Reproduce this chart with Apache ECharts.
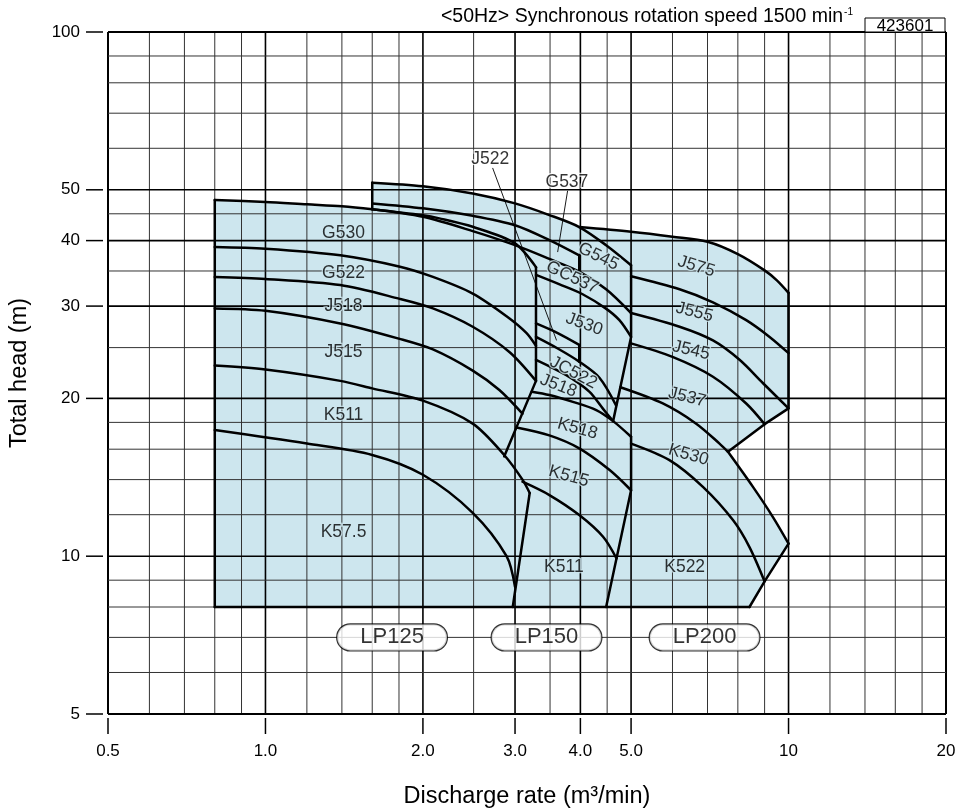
<!DOCTYPE html>
<html><head><meta charset="utf-8">
<script src="https://cdn.jsdelivr.net/npm/echarts@6/dist/echarts.min.js"></script>
<style>html,body{margin:0;padding:0;background:#fff}#c{width:959px;height:810px}</style>
</head><body><div id="c"></div>
<script>
// ---------------- data ----------------
var xGridVals = [0.5,0.6,0.7,0.8,0.9,1,1.2,1.4,1.6,1.8,2,2.5,3,3.5,4,4.5,5,6,7,8,9,10,12,14,16,18,20];
var yGridVals = [5,6,7,8,9,10,12,14,16,18,20,25,30,35,40,45,50,60,70,80,90,100];
var xMajorGrid = [1,2,3,4,5,10];
var yMajorGrid = [10,20,30,40,50];
var xTickVals = [0.5,1,2,3,4,5,10,20];
var xTickLabels = ['0.5','1.0','2.0','3.0','4.0','5.0','10','20'];
var yTickVals = [5,10,20,30,40,50,100];
var yTickLabels = ['5','10','20','30','40','50','100'];

// LP125
var edge125 = [[0.8,8],[0.8,47.8]];
var top125 = [[0.8,47.8],[1.0,47.4],[1.2,46.9],[1.4,46.5],[1.6,45.9],[2.0,44.7],[2.15,44.1],[2.49,42.5],[2.99,39.6],[3.29,35.6]];
var curve125a = [[0.8,38.9],[1.0,38.6],[1.39,37.5],[1.8,35.7],[2.09,34.1],[2.49,31.7],[2.89,28.7],[3.15,26.7],[3.29,25.2]];
var curve125b = [[0.8,34.1],[1.0,33.8],[1.39,32.9],[1.8,31.0],[2.09,29.7],[2.49,27.4],[2.93,24.5],[3.29,21.6]];
var curve125c = [[0.8,29.7],[1.0,29.4],[1.39,27.8],[1.8,26.0],[2.09,24.8],[2.49,22.6],[2.8,20.75],[3.1,18.7]];
var curve125d = [[0.8,23.1],[1.0,22.7],[1.39,21.6],[1.6,20.9],[2.0,19.8],[2.49,17.9],[2.86,15.6],[3.1,14.0],[3.2,13.2]];
var curve125e = [[0.8,17.4],[1.2,16.4],[1.6,15.6],[2.0,14.3],[2.49,12.1],[2.89,10.0],[3.0,8.74]];
var vert125 = [[3.29,35.6],[3.29,21.6]];
var slant150 = [[3.29,21.6],[2.86,15.5]];
var low150 = [[3.2,13.2],[2.97,8]];

// LP150
var step150 = [[1.6,45.9],[1.6,51.6]];
var top150 = [[1.6,51.6],[2.0,50.8],[2.49,49.2],[3.0,47.1],[3.49,44.75],[3.98,42.45],[4.48,39.2],[5.0,35.9]];
var g537Low = [[1.6,47.1],[2.0,46.1],[2.49,44.6],[3.0,42.8],[3.49,40.1],[3.98,37.5]];
var gc537Top = [[1.6,45.9],[2.0,44.4],[2.49,41.7],[3.0,39.2],[3.49,36.9],[3.98,34.9],[4.48,32.3],[5.0,29.1]];
var div545 = [[3.98,37.5],[3.98,34.9]];
var gc537Low = [[3.29,34.4],[3.65,33.0],[4.04,31.6],[4.47,29.7],[4.75,28.2],[5.0,26.2]];
var j530Low = [[3.29,27.8],[3.62,26.65],[3.98,25.3]];
var div530 = [[3.98,25.3],[3.98,23.5]];
var j522Low = [[3.29,26.2],[3.62,24.9],[3.98,23.5],[4.35,21.9],[4.68,19.4]];
var jc522Low = [[3.29,23.7],[3.76,22.15],[4.16,20.6],[4.42,19.1],[4.62,18.1]];
var j518Low = [[3.23,20.6],[3.49,20.3],[3.87,19.7],[4.29,19.0],[4.62,18.1],[5.0,16.9]];
var k518Low = [[3.02,17.6],[3.49,17.0],[3.98,16.06],[4.55,14.6],[5.0,13.36]];
var k515Low = [[3.1,13.87],[3.49,13.08],[3.98,11.98],[4.42,10.89],[4.69,9.9]];
var right150 = [[5.0,35.9],[5.0,26.2],[4.62,18.1]];
var right150Low = [[5.0,16.9],[5.0,13.36],[4.48,8]];

// LP200
var top200 = [[3.98,42.45],[5.0,41.6],[6.0,40.7],[7.0,39.8],[8.0,37.7],[9.0,35.1],[9.5,33.6],[10,31.8]];
var right200 = [[10,31.8],[10,19.14],[9.0,17.86],[7.66,15.82]];
var outer200 = [[7.66,15.82],[8.55,13.56],[9.33,11.89],[10,10.57]];
var tail200 = [[10,10.57],[9.0,8.95],[8.42,8]];
var bottomLine = [[8.42,8],[0.8,8]];
var j575Low = [[5.0,34.2],[6.19,32.3],[7.17,30.5],[8.3,28.2],[9.2,26.2],[10,24.4]];
var j555Low = [[5.0,29.1],[6.19,27.4],[7.17,25.8],[8.06,23.7],[8.93,21.4],[10,19.14]];
var j545Low = [[4.98,25.5],[6.0,24.0],[7.17,22.0],[8.3,19.56],[9.0,17.86]];
var j537Low = [[4.77,21.0],[5.75,19.56],[6.66,17.9],[7.38,16.4],[7.66,15.82]];
var k530Low = [[5.0,16.4],[5.92,15.25],[6.86,13.56],[7.83,11.72],[8.42,10.41],[9.0,8.95]];

// labels: [text, x, y]
var curveLabels = [
  ['G530',1.41,41.25],['G522',1.41,34.6],['J518',1.41,30.0],['J515',1.41,24.46],['K511',1.41,18.59],['K57.5',1.41,11.11],
  ['G545',4.33,37.3],['GC537',3.86,34.0],['J530',4.07,27.7],['JC522',3.88,22.4],['J518',3.63,21.15],['K518',3.95,17.5],['K515',3.8,14.2],['K511',3.72,9.53],
  ['J575',6.66,35.7],['J555',6.61,29.2],['J545',6.51,24.7],['J537',6.4,20.1],['K530',6.44,15.6],['K522',6.33,9.51]
];
var leaderLabels = [['J522',2.69,57.2],['G537',3.77,51.6]];
var leaderJ522 = [[2.72,54.95],[3.6,25.84]];
var leaderG537 = [[3.78,49.7],[3.62,38.1]];
var pumpNames = ['LP125','LP150','LP200'];
var pumpX = [1.746,3.446,6.91];
var pumpY = [7,7,7];

// ---------------- styles ----------------
var labelRot = [0,0,0,0,0,0,-26,-25,-20,-28,-21,-15.5,-15.5,0,-17,-14,-13,-14,-16,0];
var FONT = '"Liberation Sans", Arial, sans-serif';
var FILL = '#cde6ee';

var fillPoly = edge125.concat(top125.slice(1,5), top150.slice(0,6), top200.slice(1), right200.slice(1), outer200.slice(1), tail200.slice(1));

function ln(data, smooth, w, z) {
  return {type:'line', data:data, smooth: smooth ? 0.3 : false,
    symbol:'none', silent:true, animation:false, z: z || 4,
    lineStyle:{color:'#000', width: w || 2.5, cap:'round', join:'round'}};
}

var smoothLines = [top125, curve125a, curve125b, curve125c, curve125d, curve125e, top150, g537Low, gc537Top,
  gc537Low, j530Low, j522Low, jc522Low, j518Low, k518Low, k515Low, top200, outer200,
  j575Low, j555Low, j545Low, j537Low, k530Low];
var straightLines = [edge125, step150, vert125, slant150, low150, div545, div530, right150, right150Low,
  right200, tail200, bottomLine];

var series = [];
// fill
series.push({type:'custom', silent:true, z:1, animation:false, data:[[1,10]],
  renderItem:function(params, api){
    return {type:'polygon', shape:{points: fillPoly.map(function(p){return api.coord(p);})},
      style:{fill:FILL, lineWidth:0}};
  }});
// grid
series.push({type:'custom', silent:true, z:2, animation:false, data:[[1,10]],
  renderItem:function(params, api){
    var ch = [];
    var y0 = yGridVals[0], y1 = yGridVals[yGridVals.length-1];
    var x0 = xGridVals[0], x1 = xGridVals[xGridVals.length-1];
    xGridVals.forEach(function(v){
      var a = api.coord([v,y0]), b = api.coord([v,y1]);
      var w = (v===x0||v===x1) ? 2 : (xMajorGrid.indexOf(v)>=0 ? 1.6 : 1);
      ch.push({type:'line', shape:{x1:a[0],y1:a[1],x2:b[0],y2:b[1]}, style:{stroke: w===1?'#333':'#000', lineWidth:w}});
    });
    yGridVals.forEach(function(v){
      var a = api.coord([x0,v]), b = api.coord([x1,v]);
      var w = (v===y0||v===y1) ? 2 : (yMajorGrid.indexOf(v)>=0 ? 1.6 : 1);
      ch.push({type:'line', shape:{x1:a[0],y1:a[1],x2:b[0],y2:b[1]}, style:{stroke: w===1?'#333':'#000', lineWidth:w}});
    });
    return {type:'group', children:ch};
  }});
// ticks & tick labels
series.push({type:'custom', silent:true, z:2, animation:false, data:[[1,10]],
  renderItem:function(params, api){
    var ch = [];
    var y0 = yGridVals[0], x0 = xGridVals[0];
    xTickVals.forEach(function(v,i){
      var p = api.coord([v,y0]);
      ch.push({type:'line', shape:{x1:p[0],y1:p[1]+4,x2:p[0],y2:p[1]+20}, style:{stroke:'#000', lineWidth:1.5}});
      ch.push({type:'text', x:p[0], y:p[1]+37, style:{text:xTickLabels[i], fontSize:17, fontFamily:FONT, fill:'#000', align:'center', verticalAlign:'middle'}});
    });
    yTickVals.forEach(function(v,i){
      var p = api.coord([x0,v]);
      ch.push({type:'line', shape:{x1:p[0]-22,y1:p[1],x2:p[0]-5,y2:p[1]}, style:{stroke:'#000', lineWidth:1.5}});
      ch.push({type:'text', x:p[0]-28, y:p[1], style:{text:yTickLabels[i], fontSize:17, fontFamily:FONT, fill:'#000', align:'right', verticalAlign:'middle'}});
    });
    return {type:'group', children:ch};
  }});

smoothLines.forEach(function(d){ series.push(ln(d, true)); });
straightLines.forEach(function(d){ series.push(ln(d, false)); });
series.push(ln(leaderJ522, false, 0.9, 5));
series.push(ln(leaderG537, false, 0.9, 5));

series.push({type:'scatter', symbolSize:0, silent:true, z:6, animation:false,
  data: curveLabels.map(function(l,i){ return {name:l[0], value:[l[1],l[2]], label:{rotate:labelRot[i]}}; }),
  label:{show:true, position:'inside', formatter:'{b}', fontSize:17.5, fontFamily:FONT, color:'#000',
    textBorderColor:FILL, textBorderWidth:2.5}});
series.push({type:'scatter', symbolSize:0, silent:true, z:6, animation:false,
  data: leaderLabels.map(function(l){ return {name:l[0], value:[l[1],l[2]]}; }),
  label:{show:true, position:'inside', formatter:'{b}', fontSize:17.5, fontFamily:FONT, color:'#000',
    textBorderColor:'#fff', textBorderWidth:2.5}});
series.push({type:'scatter', symbolSize:0, silent:true, z:7, animation:false,
  data: pumpNames.map(function(n,i){ return {name:n, value:[pumpX[i], pumpY[i]]}; }),
  label:{show:true, position:'inside', formatter:'{b}', fontSize:22, lineHeight:23, fontFamily:FONT, color:'#000',
    backgroundColor:'#fff', borderColor:'#000', borderWidth:1.2, borderRadius:13, padding:[2,23,1,23]}});

var chart = echarts.init(document.getElementById('c'));
chart.setOption({
  animation:false,
  backgroundColor:'#fff',
  grid:{left:108, right:13, top:32, bottom:96, containLabel:false, outerBoundsMode:'none'},
  xAxis:{type:'log', logBase:10, min:0.5, max:20,
    axisLine:{show:false}, axisTick:{show:false}, axisLabel:{show:false}, splitLine:{show:false},
    name:'Discharge rate (m\u00b3/min)', nameLocation:'middle', nameGap:71,
    nameTextStyle:{fontSize:23.5, color:'#000', fontFamily:FONT}},
  yAxis:{type:'log', logBase:10, min:5, max:100,
    axisLine:{show:false}, axisTick:{show:false}, axisLabel:{show:false}, splitLine:{show:false},
    name:'Total head (m)', nameLocation:'middle', nameGap:76, nameRotate:90,
    nameTextStyle:{fontSize:23.5, color:'#000', fontFamily:FONT}},
  graphic:[
    {type:'text', x:853, y:17, z:10, style:{text:'{a|<50Hz> Synchronous rotation speed 1500 min}{s|-1}',
      align:'right', verticalAlign:'middle', fill:'#000',
      rich:{a:{fontSize:19.5, fontFamily:FONT, lineHeight:22, fill:'#000'}, s:{fontSize:10, fontFamily:FONT, lineHeight:22, verticalAlign:'top', fill:'#000', padding:[1,0,0,1]}}}},
    {type:'rect', z:10, shape:{x:865, y:18, width:80, height:14}, style:{fill:'#fff', stroke:'#000', lineWidth:1}},
    {type:'text', z:11, x:905, y:26, style:{text:'423601', fontSize:17, fontFamily:FONT, fill:'#000', align:'center', verticalAlign:'middle'}}
  ],
  series:series
});
</script></body></html>
